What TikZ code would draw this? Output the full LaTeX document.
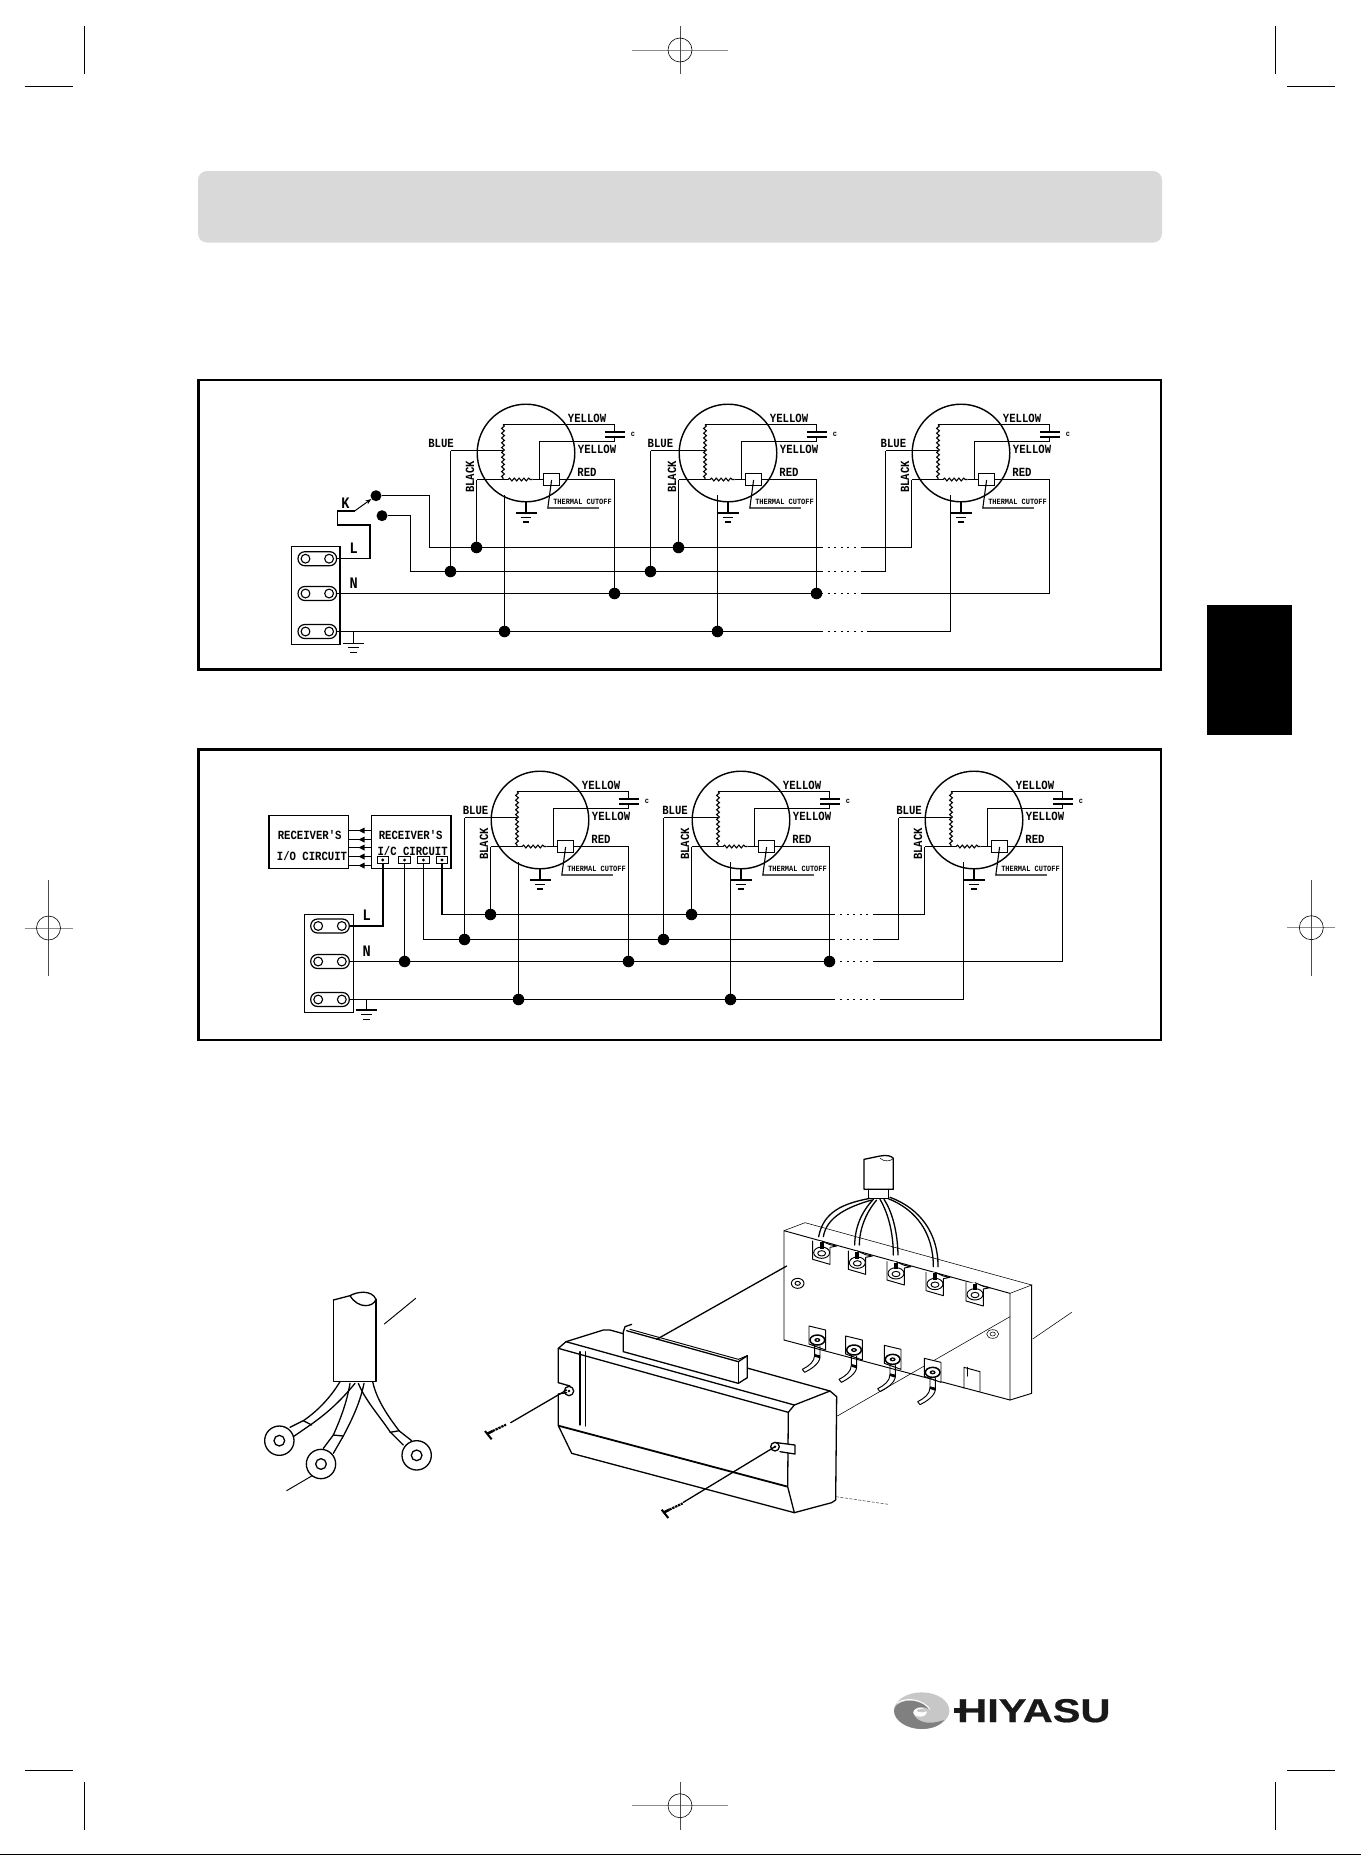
\documentclass[tikz,border=0pt]{standalone}
\usepackage{fontspec}
\usetikzlibrary{decorations.pathmorphing,arrows.meta}
\newfontfamily\lblfont[FakeStretch=0.85]{Liberation Mono}
\newfontfamily\smallfont[FakeStretch=0.87]{Liberation Mono}
\newfontfamily\logofont[FakeStretch=1.26,FakeBold=0.6]{Liberation Sans}
\tikzset{
  wire/.style={line width=1.4pt,line cap=butt,line join=miter},
  frame/.style={line width=2.2pt,draw=black},
  dot/.style={circle,fill=black,inner sep=0pt,minimum size=11.5pt},
  lbl/.style={font=\lblfont\bfseries\fontsize{12.5}{13}\selectfont,inner sep=0pt},
  bigl/.style={font=\lblfont\bfseries\fontsize{16}{17}\selectfont,inner sep=0pt},
  tinyl/.style={font=\smallfont\bfseries\fontsize{8}{9}\selectfont,inner sep=0pt},
  coilwire/.style={line width=1.1pt,decorate,decoration={snake,segment length=4.8pt,amplitude=1.4pt}},
  dotline/.style={line width=1.5pt,dash pattern=on 2pt off 4.6pt},
  cropmark/.style={line width=.7pt,draw=black},
  regh/.style={line width=.8pt,draw=black!45},
  regv/.style={line width=.6pt,draw=black!70},
  oblong/.style={draw,line width=1.2pt,rounded corners=6.8pt,minimum width=38.6pt,minimum height=14pt,inner sep=0pt},
  ink/.style={line width=.95pt,line join=round,line cap=round},
  inkb/.style={line width=1.3pt,line join=round,line cap=round},
  hair/.style={line width=.55pt},
  sq/.style={draw,line width=1.1pt,minimum width=11.5pt,minimum height=7pt,inner sep=0pt},
  rbox/.style={draw,line width=1.2pt,inner sep=0pt},
}
% motor: name, cx, cy, earth dx, blue dx, blue label dx
\newcommand{\motor}[6]{%
 \begin{scope}[shift={(#2,#3)}]
  \draw[wire] (0,0) circle[radius=48.8];
  \node[draw,line width=1.2pt,minimum width=15.5pt,minimum height=11.5pt,inner sep=0pt,fill=white] (#1tc) at (25.6,26.5) {};
  \draw[wire] (88.5,-28.5) -- (-23,-28.5);
  \draw[coilwire] (-23,-28.5) -- (-23,26.5);
  \draw[wire] (-49.5,26.5) -- (-18,26.5);
  \draw[coilwire] (-18,26.5) -- (6.5,26.5);
  \draw[wire] (6.5,26.5) -- (#1tc.west);
  \draw[wire] (13.5,26.5) -- (13.5,-11.5) -- (88.5,-11.5);
  \draw[wire] (88.5,-28.5) -- (88.5,-21);
  \draw[wire] (88.5,-16) -- (88.5,-11.5);
  \draw[line width=1.5pt] (79,-21) -- (99,-21) (79,-16) -- (99,-16);
  \draw[wire] (#1tc.east) -- (88.5,26.5);
  \draw[wire] (-23,-2.5) -- (#5,-2.5);
  \draw[line width=1.1pt] (25.6,27) -- (21.8,55) -- (72.8,55);
  \draw[wire] (0,49) -- (0,60);
  \draw[line width=1.3pt] (-10.5,60) -- (10.5,60) (-5.4,64.4) -- (5.4,64.4) (-3.4,69) -- (3.4,69);
  \coordinate (#1black) at (-49.5,26.5);
  \coordinate (#1red) at (88.5,26.5);
  \coordinate (#1blue) at (#5,-2.5);
  \coordinate (#1earth) at (#4,42);
  \node[lbl] at (61,-35) {YELLOW};
  \node[lbl] at (71,-3.7) {YELLOW};
  \node[lbl] at (61,19) {RED};
  \node[tinyl] at (56.5,49) {THERMAL CUTOFF};
  \node[lbl] at (#6,-9.3) {BLUE};
  \node[lbl,rotate=90] at (-56,24) {BLACK};
  \node[tinyl] at (107,-19) {c};
 \end{scope}}
\newcommand{\terminal}[3]{%
  \node[oblong] (#1) at (#2,#3) {};
  \draw[line width=1.1pt] (#2-11.8,#3) circle[radius=4.4] (#2+11.8,#3) circle[radius=4.4];}
\newcommand{\gnd}[2]{%
  \draw[wire] (#1,#2-11) -- (#1,#2);
  \draw[line width=1.3pt] (#1-10.5,#2) -- (#1+10.5,#2) (#1-5.4,#2+4.5) -- (#1+5.4,#2+4.5) (#1-3.4,#2+9.4) -- (#1+3.4,#2+9.4);}
% registration mark: x, y, half width, half height
\newcommand{\reg}[4]{%
  \draw[regh] (#1-#3,#2) -- (#1+#3,#2);
  \draw[regv] (#1,#2-#4) -- (#1,#2+#4);
  \draw[line width=.6pt] (#1,#2) circle[radius=12];}
\newcommand{\screw}[2]{% x,y of head, in zoom units; points to upper right
  \begin{scope}[shift={(#1,#2)}]
   \draw[line width=2.6pt] (0,0) -- (18,-9);
   \draw[line width=2.2pt,dash pattern=on 2.4pt off .8pt] (18,-9) -- (58,-28);
   \draw[line width=2pt] (-5,-9) -- (15,16);
  \end{scope}}
\newcommand{\toplug}[2]{%
  \begin{scope}[shift={(#1,#2)}]
   \draw[ink,fill=white] (-27,-35) -- (-27,20) -- (25,35) -- (25,-16) -- (45,-20) -- (25,-24) -- (0,-35);
   \draw[ink,fill=white] (0,0) ellipse[x radius=24,y radius=17];
   \draw[ink] (0,2) ellipse[x radius=12,y radius=8];
   \fill (-6,-32) rectangle (6,-12);
  \end{scope}}
\newcommand{\botlug}[2]{%
  \begin{scope}[shift={(#1,#2)}]
   \draw[ink,fill=white] (-25,-42) -- (-25,12) -- (25,30) -- (25,-30) -- cycle;
   \draw[line width=1.5pt,fill=white] (0,0) ellipse[x radius=22,y radius=15];
   \fill (0,0) ellipse[x radius=9,y radius=6];
   \fill[white] (0,0) ellipse[x radius=3.5,y radius=2.5];
   \draw[ink] (-8,15) -- (-8,45) .. controls (-8,65) and (-25,78) .. (-45,88) (8,18) -- (8,52) .. controls (6,72) and (-20,88) .. (-38,97) -- (-45,88);
   \fill (-8,42) -- (8,46) -- (8,55) -- (-8,50) -- cycle;
  \end{scope}}
\begin{document}
\begin{tikzpicture}[x=1pt,y=-1pt]
\useasboundingbox (0,0) rectangle (1361,1855);
\fill[white] (0,0) rectangle (1361,1855);
% page furniture
\fill[black!15,rounded corners=9pt] (198,171) rectangle (1162,242.5);
\fill (1207,605) rectangle (1292,735);
\draw[line width=1.5pt] (0,1854.3) -- (1361,1854.3);
\draw[cropmark] (84.5,26) -- (84.5,74) (1275,26) -- (1275,74) (84.5,1782) -- (84.5,1830) (1275,1782) -- (1275,1830);
\draw[cropmark,line width=.9pt] (24.5,86.3) -- (73,86.3) (1287,86.3) -- (1334.5,86.3) (25,1770) -- (73,1770) (1287,1770) -- (1334.5,1770);
\reg{680}{50}{48}{24}
\reg{680}{1805.7}{48}{24}
\reg{48.5}{928}{24}{48}
\reg{1311.3}{927.7}{24}{48}
% ---------- panel 1
\draw[frame] (198.5,380) rectangle (1161,669.5);
\node[rbox,minimum width=48.6pt,minimum height=97.6pt] (tb1) at (315.7,595.5) {};
\terminal{t1l}{317.3}{558.7}
\terminal{t1n}{317.3}{593.5}
\terminal{t1e}{317.3}{631.5}
\motor{ma}{526}{453}{-21.5}{-75.5}{-85}
\motor{mb}{728}{453}{-10.5}{-77.5}{-67.6}
\motor{mc}{961}{453}{-10.5}{-75.5}{-67.6}
\node[dot,minimum size=11pt] (swa) at (376,495.7) {};
\node[dot,minimum size=11pt] (swb) at (382,515.7) {};
\node[bigl] at (345.4,503) {K};
\node[bigl] at (353.8,548) {L};
\node[bigl] at (353.8,583) {N};
\coordinate (lbar) at (0,547.5);
\coordinate (bbar) at (0,571.5);
\coordinate (nbar) at (0,593.5);
\coordinate (ebar) at (0,631.5);
\foreach \m in {ma,mb}{
 \node[dot] (\m L) at (\m black |- lbar) {};
 \node[dot] (\m B) at (\m blue |- bbar) {};
 \node[dot] (\m N) at (\m red |- nbar) {};
 \node[dot] (\m E) at (\m earth |- ebar) {};
 \draw[wire] (\m black) -- (\m L);
 \draw[wire] (\m blue) -- (\m B);
 \draw[wire] (\m red) -- (\m N);
 \draw[wire] (\m earth) -- (\m E);
}
% switch + L
\coordinate (swk) at (354.6,511);
\draw[wire] (t1l.east) -- (370,558.7) -- (370,525) -- (337.3,525) -- (337.3,511) -- (swk);
\draw[line width=1pt,-{Stealth[length=6pt,width=4.5pt]}] (swk) -- (swa);
\coordinate (c1) at (821,547.5);\coordinate (d1) at (861,547.5);
\coordinate (c2) at (821,571.5);\coordinate (d2) at (861,571.5);
\coordinate (c3) at (821,593.5);\coordinate (d3) at (863,593.5);
\coordinate (c4) at (821,631.5);\coordinate (d4) at (869.3,631.5);
\draw[wire] (swa) -- (429.5,495.7) -- (429.5,547.5) -- (c1);
\draw[wire] (swb) -- (410.5,515.7) -- (410.5,571.5) -- (c2);
\draw[wire] (t1n.east) -- (c3);
\draw[wire] (t1e.east) -- (c4);
\draw[dotline] (c1) -- (d1) (c2) -- (d2) (c3) -- (d3) (c4) -- (d4);
\draw[wire] (d1) -- (mcblack |- d1) -- (mcblack);
\draw[wire] (d2) -- (mcblue |- d2) -- (mcblue);
\draw[wire] (d3) -- (mcred |- d3) -- (mcred);
\draw[wire] (d4) -- (mcearth |- d4) -- (mcearth);
\gnd{353.4}{643.3}
% ---------- panel 2
\draw[frame] (198.5,749.5) rectangle (1161,1040);
\node[rbox,minimum width=49pt,minimum height=98pt] (tb2) at (328.8,963.3) {};
\terminal{t2l}{330}{926}
\terminal{t2n}{330}{961.5}
\terminal{t2e}{330}{999.5}
\motor{na}{540}{820}{-21.5}{-75.5}{-64.5}
\motor{nb}{741}{820}{-10.5}{-77.5}{-66}
\motor{nc}{974}{820}{-10.5}{-75.5}{-65}
\node[rbox,minimum width=79.7pt,minimum height=53pt] (rio) at (308.85,842.2) {};
\node[rbox,minimum width=79.7pt,minimum height=53pt] (ric) at (411.15,842.2) {};
\node[lbl] (rt1) at (309.7,835) {RECEIVER'S};
\node[lbl] (rt2) at (312,856) {I/O CIRCUIT};
\node[lbl] (rt3) at (410.7,834.7) {RECEIVER'S};
\node[lbl] (rt4) at (412.6,851) {I/C CIRCUIT};
\foreach \y in {830.5,839.5,847.5,856.5,865.5}{
 \draw[wire] (rio.east |- 0,\y) -- (ric.west |- 0,\y);
 \fill (358.5,\y) -- (364.5,\y-3) -- (364.5,\y+3) -- cycle;
}
\foreach \i/\x in {1/382.8,2/404.6,3/423.4,4/442}{
 \node[sq] (sq\i) at (\x,860) {};
 \fill (\x,860) circle[radius=1.6];
}
\node[bigl] at (366.7,915.7) {L};
\node[bigl] at (366.7,951.7) {N};
\coordinate (lbar2) at (0,914.5);
\coordinate (bbar2) at (0,939.5);
\coordinate (nbar2) at (0,961.5);
\coordinate (ebar2) at (0,999.5);
\foreach \m in {na,nb}{
 \node[dot] (\m L) at (\m black |- lbar2) {};
 \node[dot] (\m B) at (\m blue |- bbar2) {};
 \node[dot] (\m N) at (\m red |- nbar2) {};
 \node[dot] (\m E) at (\m earth |- ebar2) {};
 \draw[wire] (\m black) -- (\m L);
 \draw[wire] (\m blue) -- (\m B);
 \draw[wire] (\m red) -- (\m N);
 \draw[wire] (\m earth) -- (\m E);
}
\node[dot] (nN0) at (sq2.south |- nbar2) {};
\draw[wire] (sq1.south) |- (t2l.east);
\draw[wire] (sq2.south) -- (nN0);
\coordinate (e1) at (833.3,914.5);\coordinate (f1) at (875,914.5);
\coordinate (e2) at (833.3,939.5);\coordinate (f2) at (875,939.5);
\coordinate (e3) at (833.3,961.5);\coordinate (f3) at (875,961.5);
\coordinate (e4) at (833.3,999.5);\coordinate (f4) at (881.7,999.5);
\draw[wire] (sq4.south) |- (e1);
\draw[wire] (sq3.south) |- (e2);
\draw[wire] (t2n.east) -- (e3);
\draw[wire] (t2e.east) -- (e4);
\draw[dotline] (e1) -- (f1) (e2) -- (f2) (e3) -- (f3) (e4) -- (f4);
\draw[wire] (f1) -- (ncblack |- f1) -- (ncblack);
\draw[wire] (f2) -- (ncblue |- f2) -- (ncblue);
\draw[wire] (f3) -- (ncred |- f3) -- (ncred);
\draw[wire] (f4) -- (ncearth |- f4) -- (ncearth);
\gnd{366.3}{1010}
% ---------- lug cable
\begin{scope}[shift={(240,1270)},scale=1/3]
 \draw[inkb] (280,90) -- (280,335) -- (408,335) -- (408,88);
 \draw[inkb] (280,90) -- (330,77) .. controls (350,65) and (395,58) .. (408,88) .. controls (400,112) and (355,118) .. (330,77);
 \draw[ink] (433,162) -- (527,85);
 \draw[ink] (140,662) -- (215,618);
 \draw[inkb] (118,512) circle[radius=44] (118,512) circle[radius=16];
 \draw[inkb] (243,582) circle[radius=44] (243,582) circle[radius=16];
 \draw[inkb] (530,556) circle[radius=44] (530,556) circle[radius=16];
 \draw[inkb] (300,335) .. controls (270,385) and (230,425) .. (190,452) -- (150,472);
 \draw[inkb] (345,340) .. controls (300,395) and (260,430) .. (215,462) -- (160,500);
 \draw[inkb] (190,452) -- (215,465);
 \draw[inkb] (330,340) .. controls (320,400) and (300,450) .. (280,495) -- (250,535);
 \draw[inkb] (372,340) .. controls (360,400) and (335,450) .. (310,498) -- (280,550);
 \draw[inkb] (280,495) -- (310,498);
 \draw[inkb] (355,340) .. controls (375,390) and (420,440) .. (450,485) -- (490,525);
 \draw[inkb] (398,335) .. controls (410,390) and (445,440) .. (478,483) -- (515,512);
 \draw[inkb] (450,487) -- (478,482);
\end{scope}
% ---------- panel with terminals
\begin{scope}[shift={(760,1140)},scale=1/3]
 \draw[ink] (72,272) -- (72,600) -- (750,780) -- (750,460) -- cycle;
 \draw[hair] (72,272) -- (135,248) -- (815,435) -- (750,460);
 \draw[ink] (815,435) -- (815,760) -- (750,780);
 \draw[hair] (818,597) -- (935,517);
 \draw[hair] (232,828) -- (750,530);
 \draw[ink] (113,430) ellipse[x radius=19,y radius=15] (113,430) ellipse[x radius=8,y radius=6];
 \draw[hair] (698,582) ellipse[x radius=18,y radius=13] (698,582) ellipse[x radius=8,y radius=6];
 \draw[ink] (612,745) -- (612,682) -- (660,695) -- (660,755);
 \draw[inkb] (622,682) -- (622,708);
 \foreach \x/\y in {185/338,292/368,408/400,525/432,645/463}{\toplug{\x}{\y}}
 \foreach \x/\y in {172/600,282/630,398/658,518/697}{\botlug{\x}{\y}}
 \draw[inkb] (312,148) -- (312,58) -- (360,48) .. controls (380,44) and (395,48) .. (400,55) -- (400,148) -- cycle;
 \draw[hair] (360,55) .. controls (375,68) and (395,62) .. (400,55);
 \draw[inkb] (325,148) -- (325,175) -- (385,175) -- (385,148);
 \draw[inkb] (330,175) .. controls (250,190) and (190,215) .. (176,290);
 \draw[inkb] (335,180) .. controls (265,200) and (200,230) .. (190,290);
 \draw[inkb] (340,178) .. controls (305,215) and (285,260) .. (284,315);
 \draw[inkb] (350,180) .. controls (320,215) and (298,265) .. (298,315);
 \draw[inkb] (360,178) .. controls (385,220) and (400,280) .. (400,345);
 \draw[inkb] (372,178) .. controls (400,220) and (413,285) .. (414,345);
 \draw[inkb] (385,176) .. controls (470,210) and (520,280) .. (520,380);
 \draw[inkb] (390,172) .. controls (480,205) and (535,280) .. (534,380);
\end{scope}
% ---------- cover
\begin{scope}[shift={(460,1290)},scale=1/3]
 \draw[inkb,fill=white] (295,278) -- (295,175) -- (318,155) -- (430,120) -- (450,120) -- (1110,303) -- (1130,320) -- (1127,630) -- (1115,638) -- (1003,668) -- (335,490) -- (295,407) -- (295,312);
 \draw[inkb] (295,278) -- (330,288);
 \draw[inkb] (295,312) -- (320,308);
 \draw[inkb] (327,303) circle[radius=14];
 \fill (327,303) circle[radius=4];
 \draw[inkb] (318,155) -- (1003,345) -- (1110,303);
 \draw[inkb] (295,175) -- (985,367) -- (1003,345);
 \draw[inkb] (985,367) -- (983,590) -- (1003,668);
 \draw[line width=1.8pt] (295,407) -- (983,590);
 \draw[inkb] (360,185) -- (360,405) (377,185) -- (377,408);
 \draw[inkb,fill=white] (515,103) -- (495,110) -- (490,125) -- (490,185) -- (835,280) -- (862,263) -- (862,197) -- (835,215) -- (500,122);
 \draw[ink] (510,118) -- (835,208) -- (862,197);
 \draw[ink] (835,215) -- (835,280);
 \draw[inkb] (590,148) -- (980,-72);
 \draw[inkb] (320,300) -- (152,398);
 \screw{80}{432}
 \draw[inkb,fill=white] (950,458) -- (1005,465) -- (1005,492) -- (960,485);
 \draw[inkb,fill=white] (945,470) circle[radius=13];
 \fill (945,470) circle[radius=4];
 \draw[inkb] (945,470) -- (670,637);
 \screw{610}{668}
 \draw[hair,dash pattern=on 3pt off 1.5pt,draw=black!70] (1128,620) -- (1285,643);
\end{scope}
% ---------- logo
\begin{scope}[shift={(860,1670)},scale=1/3]
 \fill[black!22] (185,122) ellipse[x radius=83,y radius=55];
 \fill[black!50] (102,122) .. controls (102,150) and (140,177) .. (185,177) .. controls (215,177) and (240,167) .. (252,150) .. controls (225,160) and (185,165) .. (165,140) .. controls (150,120) and (175,100) .. (208,118) .. controls (190,92) and (140,82) .. (110,105) .. controls (105,110) and (102,115) .. (102,122);
 \fill[white] (180,127) ellipse[x radius=20,y radius=13];
 \fill[black!22] (185,122) ellipse[x radius=14,y radius=5];
 \draw[white,line width=1pt] (110,100) .. controls (140,78) and (190,90) .. (210,118);
 \fill[black!90] (282,113) rectangle (312,130);
 \node[anchor=west,inner sep=0pt,text=black!90,font=\logofont\bfseries\fontsize{33}{34}\selectfont] (logo) at (291,122) {HIYASU};
\end{scope}
\end{tikzpicture}
\end{document}
